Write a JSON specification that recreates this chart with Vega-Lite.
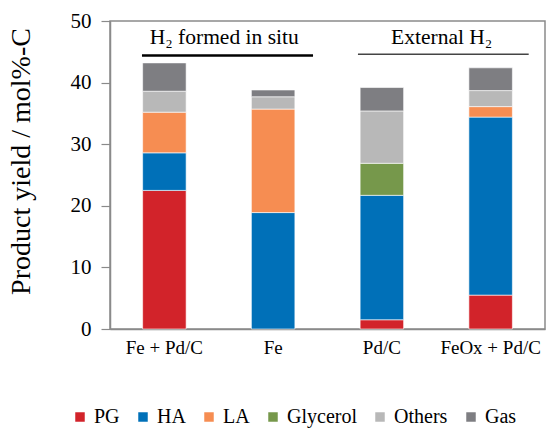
{
  "$schema": "https://vega.github.io/schema/vega-lite/v6.json",
  "autosize": {"type": "none"},
  "width": 435,
  "height": 308,
  "padding": {"left": 110, "top": 21, "right": 6, "bottom": 99},
  "background": "white",
  "config": {
    "font": "Times New Roman, Liberation Serif, serif",
    "view": {"stroke": "#8a8a8a", "strokeWidth": 1.5},
    "axis": {
      "domainColor": "#8a8a8a",
      "tickColor": "#8a8a8a",
      "labelColor": "black",
      "titleColor": "black",
      "grid": false,
      "labelFont": "Times New Roman, Liberation Serif, serif",
      "titleFont": "Times New Roman, Liberation Serif, serif",
      "titleFontWeight": "normal"
    },
    "legend": {
      "labelFont": "Times New Roman, Liberation Serif, serif"
    }
  },
  "layer": [
    {
      "data": {
        "values": [
          {"catalyst": "Fe + Pd/C", "product": "PG", "rank": 1, "yield": 22.5},
          {"catalyst": "Fe + Pd/C", "product": "HA", "rank": 2, "yield": 6.1},
          {"catalyst": "Fe + Pd/C", "product": "LA", "rank": 3, "yield": 6.6},
          {"catalyst": "Fe + Pd/C", "product": "Others", "rank": 5, "yield": 3.4},
          {"catalyst": "Fe + Pd/C", "product": "Gas", "rank": 6, "yield": 4.6},
          {"catalyst": "Fe", "product": "HA", "rank": 2, "yield": 18.9},
          {"catalyst": "Fe", "product": "LA", "rank": 3, "yield": 16.8},
          {"catalyst": "Fe", "product": "Others", "rank": 5, "yield": 2.0},
          {"catalyst": "Fe", "product": "Gas", "rank": 6, "yield": 1.1},
          {"catalyst": "Pd/C", "product": "PG", "rank": 1, "yield": 1.5},
          {"catalyst": "Pd/C", "product": "HA", "rank": 2, "yield": 20.2},
          {"catalyst": "Pd/C", "product": "Glycerol", "rank": 4, "yield": 5.2},
          {"catalyst": "Pd/C", "product": "Others", "rank": 5, "yield": 8.5},
          {"catalyst": "Pd/C", "product": "Gas", "rank": 6, "yield": 3.8},
          {"catalyst": "FeOx + Pd/C", "product": "PG", "rank": 1, "yield": 5.5},
          {"catalyst": "FeOx + Pd/C", "product": "HA", "rank": 2, "yield": 28.9},
          {"catalyst": "FeOx + Pd/C", "product": "LA", "rank": 3, "yield": 1.7},
          {"catalyst": "FeOx + Pd/C", "product": "Others", "rank": 5, "yield": 2.6},
          {"catalyst": "FeOx + Pd/C", "product": "Gas", "rank": 6, "yield": 3.7}
        ]
      },
      "mark": {"type": "bar", "stroke": "white", "strokeWidth": 0.6},
      "encoding": {
        "x": {
          "field": "catalyst",
          "type": "nominal",
          "sort": ["Fe + Pd/C", "Fe", "Pd/C", "FeOx + Pd/C"],
          "scale": {"paddingInner": 0.6, "paddingOuter": 0.3},
          "axis": {"title": null, "labelAngle": 0, "ticks": false, "labelFontSize": 19, "labelPadding": 9, "domainWidth": 1.5, "labelFont": "Times New Roman, Liberation Serif, serif"}
        },
        "y": {
          "field": "yield",
          "type": "quantitative",
          "stack": "zero",
          "scale": {"domain": [0, 50]},
          "axis": {
            "title": "Product yield / mol%-C",
            "values": [0, 10, 20, 30, 40, 50],
            "tickSize": 9,
            "tickWidth": 1.2,
            "labelPadding": 10,
            "labelFontSize": 21,
            "labelFont": "Times New Roman, Liberation Serif, serif",
            "titleFont": "Times New Roman, Liberation Serif, serif",
            "titleFontSize": 28,
            "titlePadding": 35,
            "titleY": 140,
            "domainWidth": 1.5
          }
        },
        "color": {
          "field": "product",
          "type": "nominal",
          "scale": {
            "domain": ["PG", "HA", "LA", "Glycerol", "Others", "Gas"],
            "range": ["#d2232a", "#0070b8", "#f68d52", "#76984b", "#b8b8b8", "#7e7e82"]
          },
          "legend": {
            "title": null,
            "orient": "none",
            "legendX": -40,
            "legendY": 386,
            "direction": "horizontal",
            "symbolType": "square",
            "symbolSize": 90,
            "symbolStrokeWidth": 0,
            "labelFontSize": 20,
            "labelFont": "Times New Roman, Liberation Serif, serif",
            "labelColor": "black",
            "labelOffset": 4,
            "columnPadding": 13
          }
        },
        "order": {"field": "rank", "type": "quantitative"}
      }
    },
    {
      "data": {"values": [{"from": 0.294, "to": 1.867, "level": 44.4}]},
      "mark": {"type": "rule", "color": "black", "strokeWidth": 2.5},
      "encoding": {
        "x": {"field": "from", "type": "quantitative", "scale": {"domain": [0, 4], "nice": false}, "axis": null},
        "x2": {"field": "to"},
        "y": {"field": "level", "type": "quantitative"}
      }
    },
    {
      "data": {"values": [{"from": 2.28, "to": 3.85, "level": 44.6}]},
      "mark": {"type": "rule", "color": "#444444", "strokeWidth": 1.5},
      "encoding": {
        "x": {"field": "from", "type": "quantitative", "scale": {"domain": [0, 4], "nice": false}, "axis": null},
        "x2": {"field": "to"},
        "y": {"field": "level", "type": "quantitative"}
      }
    },
    {
      "data": {
        "values": [
          {"pos": 1.05, "level": 46.2, "label": "H₂ formed in situ"},
          {"pos": 3.05, "level": 46.2, "label": "External H₂"}
        ]
      },
      "mark": {"type": "text", "fontSize": 21.5, "font": "Times New Roman, Liberation Serif, serif", "baseline": "alphabetic", "align": "center", "color": "black"},
      "encoding": {
        "x": {"field": "pos", "type": "quantitative", "scale": {"domain": [0, 4], "nice": false}, "axis": null},
        "y": {"field": "level", "type": "quantitative"},
        "text": {"field": "label"}
      }
    }
  ],
  "resolve": {"scale": {"x": "independent"}, "axis": {"x": "independent"}}
}
